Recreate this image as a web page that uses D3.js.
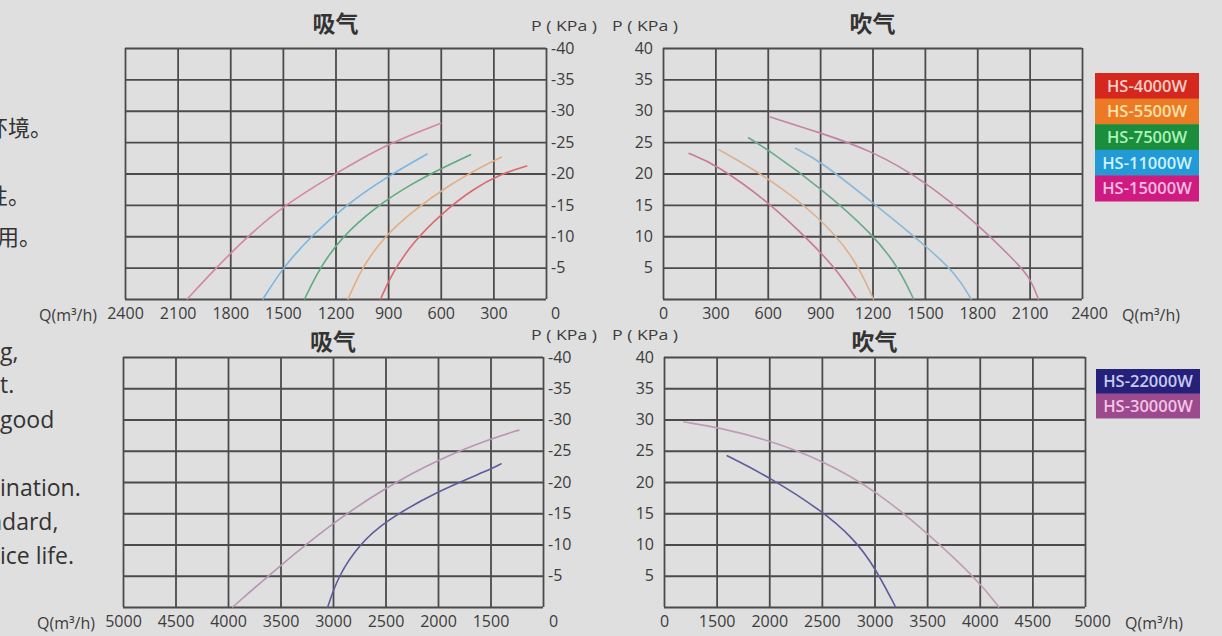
<!DOCTYPE html>
<html><head><meta charset="utf-8">
<script src="https://cdn.jsdelivr.net/npm/d3@7"></script>
<style>
html,body{margin:0;padding:0;background:#dfdfdf;}
svg{display:block;}
</style></head>
<body>
<svg id="c" width="1222" height="636"></svg>
<script>
// ---------- DATA ----------
const topSeries = ["HS-4000W","HS-5500W","HS-7500W","HS-11000W","HS-15000W"];
const bottomSeries = ["HS-22000W","HS-30000W"];
const topQTicks = [0,300,600,900,1200,1500,1800,2100,2400];
const bottomQTicks = [1000,1500,2000,2500,3000,3500,4000,4500,5000];
const bottomQLabels = ["0","1500","2000","2500","3000","3500","4000","4500","5000"];
const suckPTicks = [-5,-10,-15,-20,-25,-30,-35,-40];
const blowPTicks = [5,10,15,20,25,30,35,40];
const titles = ["吸气","吹气","吸气","吹气"];

// suction (吸气) curves, top: [Q, P]
const suck4000  = [[943,0],[880,-4],[760,-9],[600,-13.5],[420,-17.5],[250,-20],[110,-21.2]];
const suck5500  = [[1128,0],[1050,-5],[920,-10],[760,-14],[560,-18],[400,-20.6],[255,-22.6]];
const suck7500  = [[1376,0],[1290,-5],[1160,-10],[980,-14.5],[760,-18.5],[560,-21.3],[430,-23]];
const suck11000 = [[1613,0],[1500,-5],[1340,-10],[1140,-15],[900,-19.6],[678,-23.1]];
const suck15000 = [[2045,0],[1880,-5],[1700,-10],[1500,-14.8],[1200,-20],[900,-24.8],[600,-28]];
// blowing (吹气) curves, top
const blow4000  = [[150,23.2],[300,21.5],[600,15.6],[850,9],[1000,4.5],[1108,0]];
const blow5500  = [[320,23.8],[600,19.4],[900,13],[1100,6.5],[1205,0]];
const blow7500  = [[490,25.7],[600,23.8],[900,17.8],[1200,10.4],[1350,5],[1435,0]];
const blow11000 = [[760,24],[900,22],[1200,15.4],[1500,8.6],[1680,4],[1765,0]];
const blow15000 = [[615,29],[900,26.5],[1200,23.6],[1500,18.8],[1800,12],[2000,6.5],[2100,3.6],[2150,0]];
// bottom
const suck22000 = [[3050,0],[2950,-5],[2750,-10],[2500,-13.8],[2000,-18.6],[1500,-22],[1400,-22.9]];
const suck30000 = [[3955,0],[3500,-6.7],[3000,-13.5],[2500,-19.1],[2000,-23.6],[1500,-26.9],[1230,-28.3]];
const blow22000 = [[1600,24.2],[2000,20.8],[2500,15.4],[2800,11],[3000,6.5],[3200,0]];
const blow30000 = [[1190,29.6],[1500,28.8],[2000,26.7],[2500,23.5],[3000,18.8],[3500,11.9],[4000,4],[4180,0]];

// ---------- STYLE ----------
const legendFill = {"HS-4000W":"#d4281f","HS-5500W":"#ec7a24","HS-7500W":"#1b8e3d","HS-11000W":"#219ad6","HS-15000W":"#cf1b7f","HS-22000W":"#25217a","HS-30000W":"#9b4a8d"};
const legendText = {"HS-4000W":"#f7cfc6","HS-5500W":"#fbe2a8","HS-7500W":"#aef2b8","HS-11000W":"#cff2ff","HS-15000W":"#f9bde4","HS-22000W":"#c9c8f2","HS-30000W":"#f4c4e6"};
const lineSuck = {"HS-4000W":"#d96a6e","HS-5500W":"#e6ad7e","HS-7500W":"#5cab7e","HS-11000W":"#78b6e0","HS-15000W":"#d585a6","HS-22000W":"#5c5c9c","HS-30000W":"#b995b3"};
const lineBlow = {"HS-4000W":"#c97a92","HS-5500W":"#ddb08e","HS-7500W":"#6aab8a","HS-11000W":"#8ab8d8","HS-15000W":"#c483a2","HS-22000W":"#5c5c9c","HS-30000W":"#bf9bb4"};

const svg = d3.select("#c");
const font = "'Open Sans', sans-serif";
const gridColor = "#4b4b4b";

const panels = [
  {x0:125,x1:546,y0:48,y1:299, qDom:[2400,0], qTicks:topQTicks, qLabels:null, pDom:[0,-40], pTicks:suckPTicks, side:"right", title:titles[0],
   series:[["HS-4000W",suck4000],["HS-5500W",suck5500],["HS-7500W",suck7500],["HS-11000W",suck11000],["HS-15000W",suck15000]], colors:lineSuck},
  {x0:663,x1:1082,y0:48,y1:299, qDom:[0,2400], qTicks:topQTicks, qLabels:null, pDom:[0,40], pTicks:blowPTicks, side:"left", title:titles[1],
   series:[["HS-4000W",blow4000],["HS-5500W",blow5500],["HS-7500W",blow7500],["HS-11000W",blow11000],["HS-15000W",blow15000]], colors:lineBlow},
  {x0:123,x1:543,y0:357,y1:607, qDom:[5000,1000], qTicks:bottomQTicks, qLabels:bottomQLabels, pDom:[0,-40], pTicks:suckPTicks, side:"right", title:titles[2],
   series:[["HS-22000W",suck22000],["HS-30000W",suck30000]], colors:lineSuck},
  {x0:664,x1:1085,y0:357,y1:607, qDom:[1000,5000], qTicks:bottomQTicks, qLabels:bottomQLabels, pDom:[0,40], pTicks:blowPTicks, side:"left", title:titles[3],
   series:[["HS-22000W",blow22000],["HS-30000W",blow30000]], colors:lineBlow}
];

panels.forEach((p,i)=>{
  const x = d3.scaleLinear().domain(p.qDom).range([p.x0,p.x1]);
  const y = d3.scaleLinear().domain(p.pDom).range([p.y1,p.y0]);
  const h = p.y1-p.y0, w = p.x1-p.x0;
  const g = svg.append("g");

  // vertical grid
  g.append("g").attr("transform",`translate(0,${p.y1})`)
    .call(d3.axisBottom(x).tickValues(p.qTicks).tickSize(-h).tickFormat(""))
    .call(a=>{a.select(".domain").remove(); a.selectAll("line").attr("stroke",gridColor).attr("stroke-width",1.8);});
  // horizontal grid
  const allP = [0].concat(p.pTicks);
  g.append("g").attr("transform",`translate(${p.x0},0)`)
    .call(d3.axisLeft(y).tickValues(allP).tickSize(-w).tickFormat(""))
    .call(a=>{a.select(".domain").remove(); a.selectAll("line").attr("stroke",gridColor).attr("stroke-width",1.8);});

  // x tick labels
  const fmt = p.qLabels ? (d=>p.qLabels[p.qTicks.indexOf(d)]) : (d=>String(d));
  const xl = g.append("g").attr("transform",`translate(0,${p.y1})`)
    .call(d3.axisBottom(x).tickValues(p.qTicks).tickSize(0).tickPadding(9).tickFormat(fmt));
  xl.select(".domain").remove();
  xl.selectAll("text").attr("font-family",font).attr("font-size",16).attr("fill","#3c3c3c")
    .attr("dx", d=> (d===0 && p.side==="right") ? 9 : ((p.qLabels && p.side==="right" && d===1000) ? 10 : ((d===2400||d===5000) && p.side==="left" ? 7 : 0)));

  // y tick labels
  const yAxis = p.side==="right" ? d3.axisRight(y) : d3.axisLeft(y);
  const yl = g.append("g").attr("transform",`translate(${p.side==="right"?p.x1:p.x0},0)`)
    .call(yAxis.tickValues(p.pTicks).tickSize(0).tickPadding(p.side==="right"?5:10).tickFormat(d=>String(d)));
  yl.select(".domain").remove();
  yl.selectAll("text").attr("font-family",font).attr("font-size",16).attr("fill","#3c3c3c");

  // curves
  const line = d3.line().x(d=>x(d[0])).y(d=>y(d[1])).curve(d3.curveBasis);
  p.series.forEach(([name,data])=>{
    g.append("path").datum(data).attr("d",line).attr("fill","none")
      .attr("stroke",p.colors[name]).attr("stroke-width",1.6).attr("stroke-linecap","round");
  });

  // title
  g.append("text").attr("x",(p.x0+p.x1)/2).attr("y",i<2 ? p.y0-16 : p.y0-7).attr("text-anchor","middle")
    .attr("font-family","'Noto Sans CJK SC', sans-serif").attr("font-weight",700).attr("font-size",23).attr("fill","#333").text(p.title);

  // P(KPa) label
  const pl = g.append("text").attr("y", i<2 ? 31 : 340).attr("font-family",font).attr("font-size",14)
    .attr("textLength",66).attr("lengthAdjust","spacingAndGlyphs").attr("fill","#3c3c3c").text("P ( KPa )");
  if(p.side==="right"){ pl.attr("x",531); } else { pl.attr("x",612); }

  // Q label
  const ql = g.append("text").attr("y",p.y1+22).attr("font-family",font).attr("font-size",16).attr("fill","#3c3c3c").text("Q(m³/h)");
  if(p.side==="right"){ ql.attr("x",p.x0-28).attr("text-anchor","end"); } else { ql.attr("x",p.x1+40).attr("text-anchor","start"); }
});

// ---------- LEGENDS ----------
function legend(names, x0, y0, rowH){
  const lg = svg.append("g");
  const ly = d3.scaleBand().domain(names).range([y0, y0+rowH*names.length]);
  names.forEach(n=>{
    lg.append("rect").attr("x",x0).attr("y",ly(n)).attr("width",104).attr("height",ly.bandwidth()+0.5).attr("fill",legendFill[n]);
    lg.append("text").attr("x",x0+52).attr("y",ly(n)+ly.bandwidth()/2+6).attr("text-anchor","middle")
      .attr("font-family",font).attr("font-weight",600).attr("font-size",16.5).attr("fill",legendText[n]).text(n);
  });
}
legend(topSeries, 1095, 73, 25.6);
legend(bottomSeries, 1096, 369, 24.5);

// ---------- side text fragments (cut off at the left edge, as in the source) ----------
const sideCJK = [["环境。",-14,136],["性。",-14,204],["用。",-3,245]];
const sideEN = [["g,",0,360],["t.",0,393],["good",0,428],["ination.",0,496],["ndard,",-12,530],["ice life.",0,564]];
sideCJK.forEach(([t,x,yy])=>svg.append("text").attr("x",x).attr("y",yy).attr("font-family","'Noto Sans CJK SC', sans-serif").attr("font-size",22).attr("fill","#333").text(t));
sideEN.forEach(([t,x,yy])=>svg.append("text").attr("x",x).attr("y",yy).attr("font-family",font).attr("font-size",23).attr("fill","#333").text(t));
</script>
</body></html>
